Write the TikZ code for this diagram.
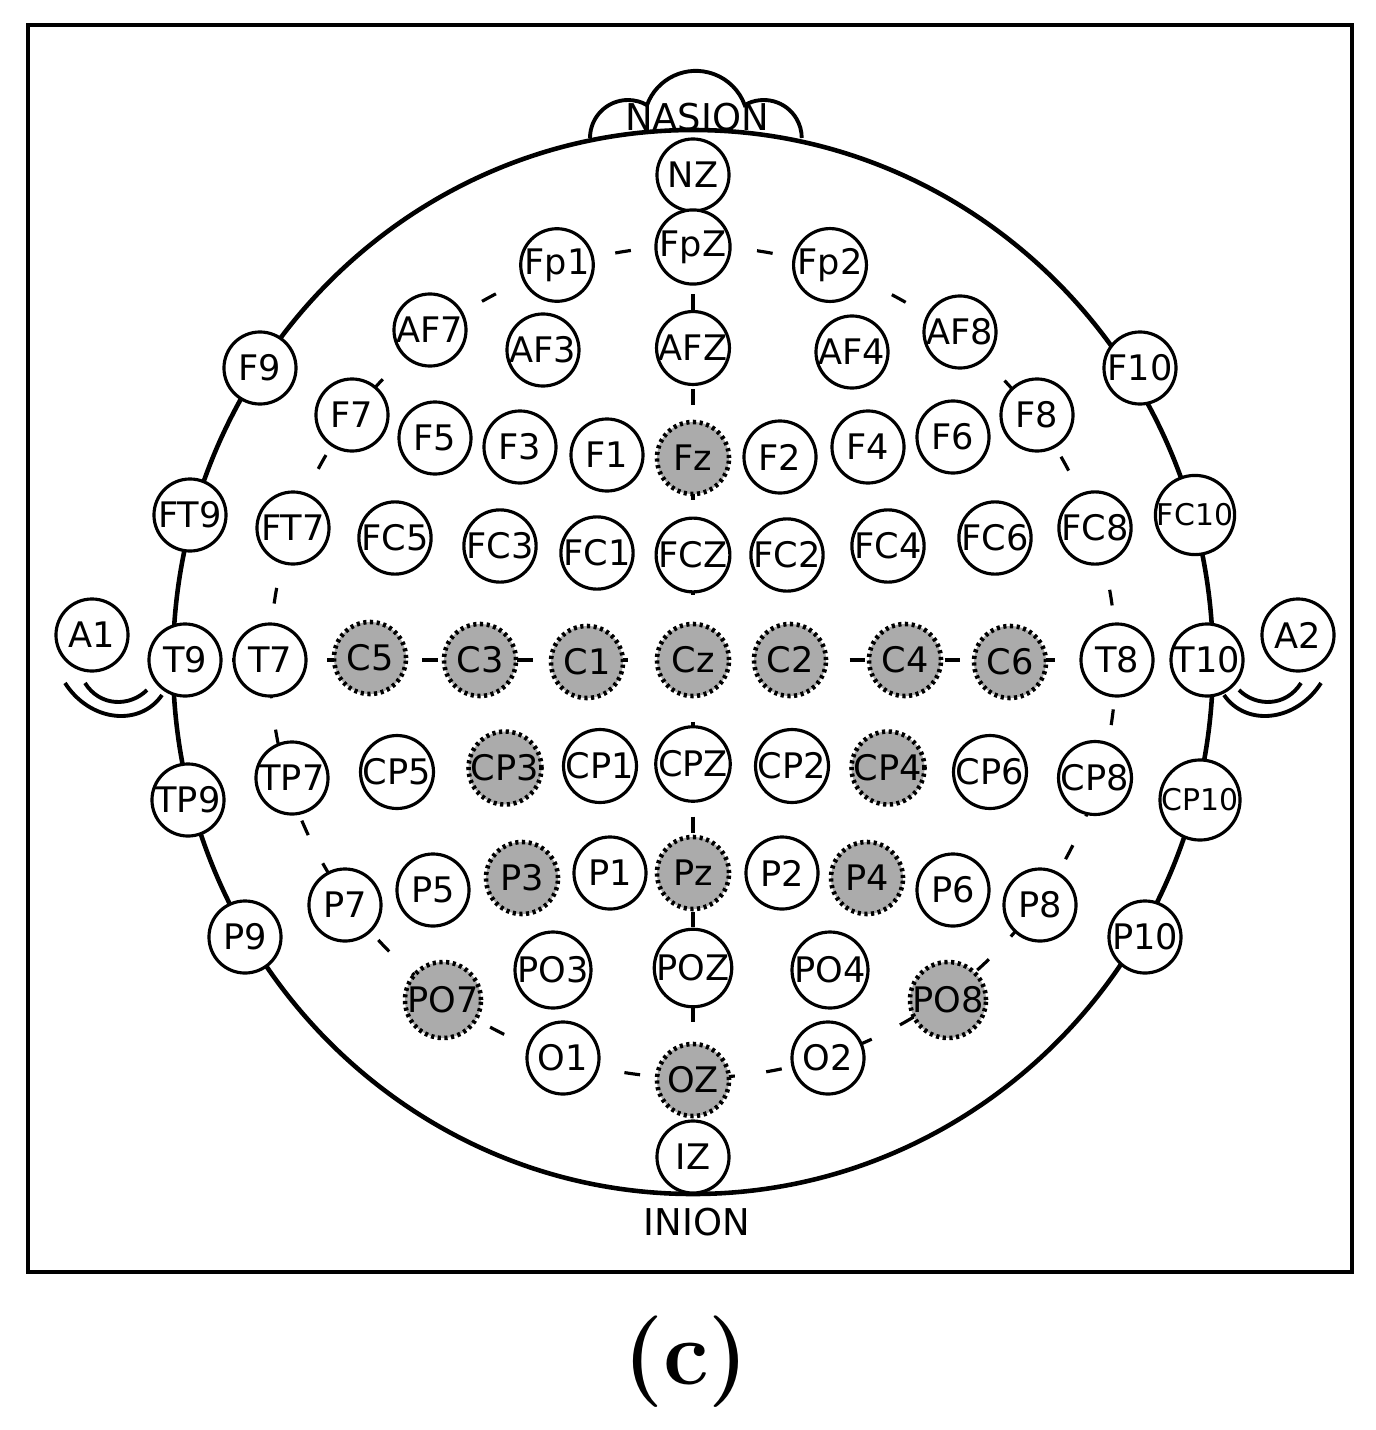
\documentclass[tikz,border=0pt]{standalone}
\usepackage{fontspec}
\setmainfont{Latin Modern Roman}
\newfontfamily\lbl{DejaVu Sans}
\begin{document}
\begin{tikzpicture}[x=0.01cm,y=-0.01cm,
 el/.style={circle,draw,line width=0.9pt,fill=white,minimum size=0.72cm,inner sep=0pt,font=\lbl\fontsize{10}{12}\selectfont},
 sel/.style={el,fill=black!33,densely dotted,line width=1.3pt},
 dsh/.style={line width=0.9pt,dash pattern=on 4.5pt off 9pt}]
\useasboundingbox (0,0) rectangle (1375,1430);
\draw[line width=0.9pt] (28,25) rectangle (1352,1272);
\draw[line width=1.1pt,fill=white] (590,138) arc[start angle=-180,end angle=-60,radius=38] arc[start angle=-160,end angle=-20,radius=52] arc[start angle=-120,end angle=0,radius=38];
\draw[line width=1.3pt,fill=white] (693,662) ellipse[x radius=520,y radius=532];
\node[font=\lbl\fontsize{10.5}{13}\selectfont] (nas) at (697,117) {NASION};
\node[font=\lbl\fontsize{10.5}{13}\selectfont] (ini) at (697,1222) {INION};
% ears
\draw[line width=1.1pt] (65,683) .. controls (90,722) and (140,727) .. (162,695);
\draw[line width=1.1pt] (85,683) .. controls (100,707) and (130,707) .. (147,690);
\draw[line width=1.1pt] (1321,683) .. controls (1296,722) and (1246,727) .. (1224,695);
\draw[line width=1.1pt] (1301,683) .. controls (1286,707) and (1256,707) .. (1239,690);
% dashed guides
\draw[dsh] (693,662) ellipse[x radius=423,y radius=416];
\draw[dsh] (185,660) -- (1207,660);
\draw[dsh] (693,247) -- (693,1080);
\foreach \n/\x/\y in {NZ/693/175,FpZ/693/247,Fp1/557/265,Fp2/830/265,AF7/430/330,AF8/960/332,AF3/543/350,AFZ/693/348,AF4/852/352,F9/260/368,F10/1140/368,F7/352/415,F5/435/438,F3/520/447,F1/607/455,F2/780/457,F4/868/447,F6/953/437,F8/1037/415,FT9/190/515,FT7/293/528,FC5/395/538,FC3/500/546,FC1/597/553,FCZ/693/555,FC2/787/555,FC4/888/546,FC6/995/538,FC8/1095/528,A1/92/635,T9/185/660,T7/270/660,T8/1117/660,T10/1207/660,A2/1298/635,TP9/188/800,TP7/292/778,CP5/397/772,CP1/600/766,CPZ/693/764,CP2/792/766,CP6/990/772,CP8/1095/778,P9/245/937,P7/345/905,P5/433/890,P1/610/873,P2/782/873,P6/953/890,P8/1040/905,P10/1145/937,PO3/553/970,POZ/693/968,PO4/830/970,O1/563/1058,O2/828/1058,IZ/693/1157}
 \node[el] (\n) at (\x,\y) {\n};
\foreach \n/\x/\y in {FC10/1195/515,CP10/1200/800}
 \node[el,font=\lbl\fontsize{8.5}{10}\selectfont] (\n) at (\x,\y) {\n};
\foreach \n/\x/\y in {Fz/693/458,C5/370/658,C3/480/660,C1/587/662,Cz/693/660,C2/790/660,C4/905/660,C6/1010/662,CP3/505/768,CP4/888/768,P3/522/878,Pz/693/873,P4/867/878,PO7/443/1000,PO8/948/1000,OZ/693/1080}
 \node[sel] (\n) at (\x,\y) {\n};
\node[font=\bfseries\fontsize{26}{30}\selectfont] (cap) at (686,1362) {(c)};
\end{tikzpicture}
\end{document}
